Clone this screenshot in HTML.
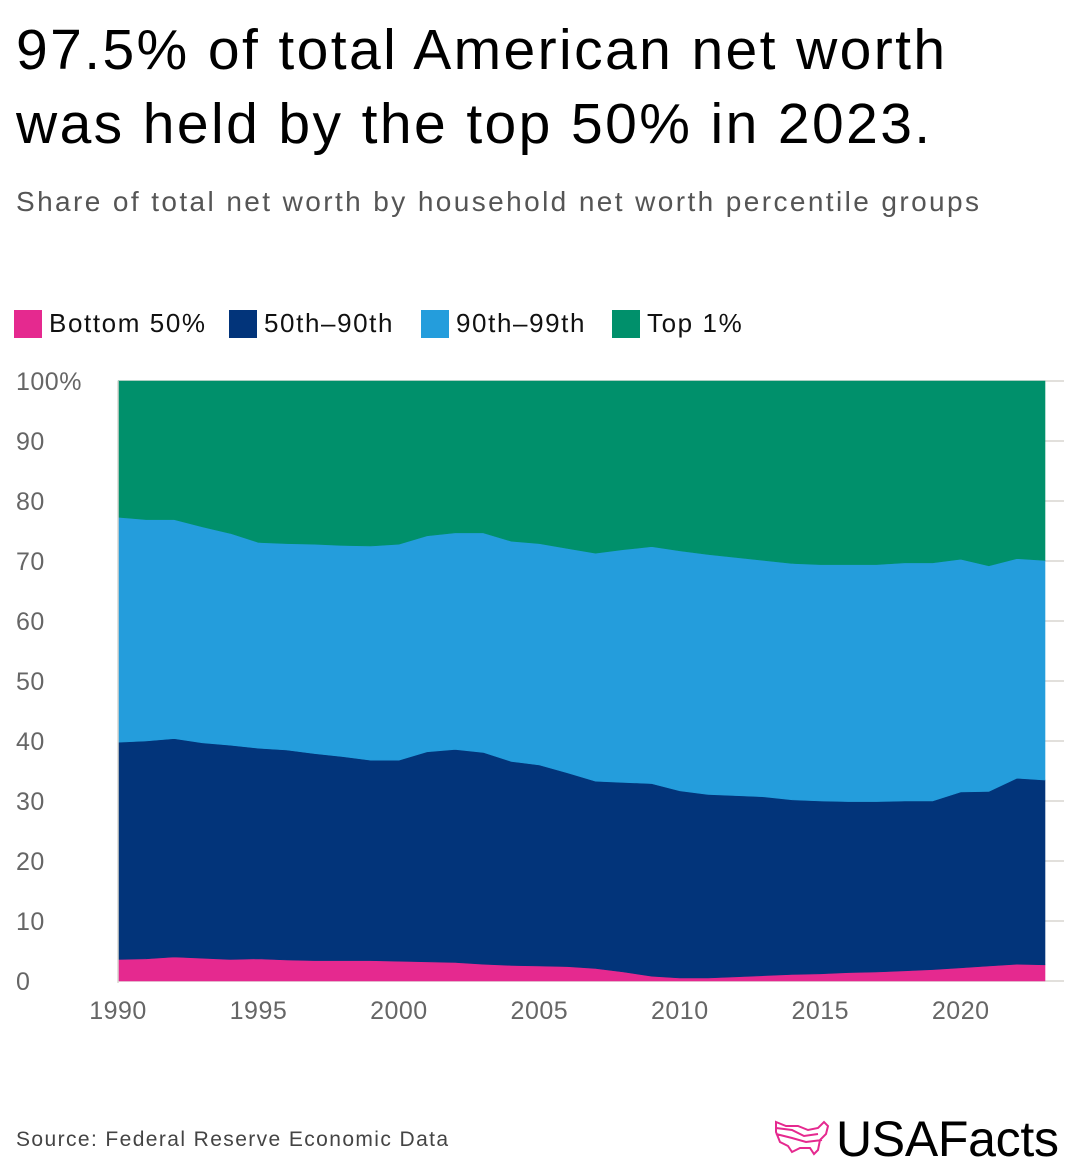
<!DOCTYPE html>
<html><head><meta charset="utf-8"><style>
body{margin:0;background:#fff;width:1080px;height:1176px;overflow:hidden;font-family:"Liberation Sans",sans-serif}
.t{position:absolute;left:16px;top:13px;font-size:57px;line-height:74px;color:#000;letter-spacing:2.4px}
.s{position:absolute;left:16px;top:186px;font-size:28px;color:#555;letter-spacing:2.4px}
.lg{position:absolute;top:308px;font-size:26px;color:#111;display:flex;align-items:center;letter-spacing:1.6px}
.lg i{display:inline-block;width:28px;height:28px;margin-right:7px}
.src{position:absolute;left:16px;top:1128px;font-size:21px;color:#444;letter-spacing:1.4px}
</style></head><body>
<div class="t">97.5% of total American net worth<br>was held by the top 50% in 2023.</div>
<div class="s">Share of total net worth by household net worth percentile groups</div>
<div class="lg" style="left:14px"><i style="background:#e5298f"></i>Bottom 50%</div>
<div class="lg" style="left:229px"><i style="background:#02347a"></i>50th–90th</div>
<div class="lg" style="left:421px"><i style="background:#249ddc"></i>90th–99th</div>
<div class="lg" style="left:612px"><i style="background:#00906b"></i>Top 1%</div>
<svg id="c" width="1080" height="1176" style="position:absolute;left:0;top:0"></svg>
<div class="src">Source: Federal Reserve Economic Data</div>
<svg style="position:absolute;left:772px;top:1118px" width="60" height="46"><path d="M4 4 L14 8 L26 8 L36 12 L46 10 L52 4 L56 8 L54 16 L48 22 L46 32 L42 36 L38 30 L28 30 L20 34 L16 28 L8 24 L4 14 Z M4 10 L20 12 L32 18 L46 16 M4 16 L20 20 L34 24 L50 22" fill="none" stroke="#e5298f" stroke-width="2"/></svg>
<div style="position:absolute;left:836px;top:1110px;font-size:50px;color:#000;letter-spacing:-0.3px">USAFacts</div>
<script>
const years=[1990,1991,1992,1993,1994,1995,1996,1997,1998,1999,2000,2001,2002,2003,2004,2005,2006,2007,2008,2009,2010,2011,2012,2013,2014,2015,2016,2017,2018,2019,2020,2021,2022,2023];
const bottom50=[3.6,3.7,4.0,3.8,3.6,3.7,3.5,3.4,3.4,3.4,3.3,3.2,3.1,2.8,2.6,2.5,2.4,2.1,1.5,0.8,0.5,0.5,0.7,0.9,1.1,1.2,1.4,1.5,1.7,1.9,2.2,2.5,2.8,2.7];
const mid50to90=[36.2,36.3,36.4,35.9,35.7,35.1,35.0,34.5,34.0,33.4,33.5,35.0,35.5,35.3,34.0,33.5,32.3,31.2,31.6,32.1,31.2,30.6,30.2,29.8,29.1,28.8,28.5,28.4,28.3,28.1,29.3,29.1,31.0,30.8];
const p90to99=[37.5,36.9,36.5,36.0,35.3,34.3,34.4,34.9,35.2,35.7,36.0,36.0,36.1,36.6,36.7,36.9,37.4,38.0,38.8,39.5,40.0,40.0,39.7,39.4,39.4,39.4,39.5,39.5,39.7,39.7,38.8,37.6,36.6,36.6];
const top1=[22.7,23.1,23.1,24.3,25.4,26.9,27.1,27.2,27.4,27.5,27.2,25.8,25.3,25.3,26.7,27.1,27.9,28.7,28.1,27.6,28.3,28.9,29.4,29.9,30.4,30.6,30.6,30.6,30.3,30.3,29.7,30.8,29.6,29.9];
const yTicks=[0,10,20,30,40,50,60,70,80,90,100];
const xTicks=[1990,1995,2000,2005,2010,2015,2020];
const NS="http://www.w3.org/2000/svg",svg=document.getElementById('c');
const X0=118,X1=1045,Y0=981,Y1=381;
const x=v=>X0+(v-1990)/(2023-1990)*(X1-X0);
const y=v=>Y0-v/100*(Y0-Y1);
function mk(t,a){const e=document.createElementNS(NS,t);for(const k in a)e.setAttribute(k,a[k]);svg.appendChild(e);return e;}
yTicks.forEach(t=>{
 const l=mk('line',{x1:X0,x2:1064,y1:y(t),y2:y(t),stroke:'#d8d6d0','stroke-width':1.5});
 
 
 const tx=mk('text',{x:16,y:y(t)+9,'font-size':25,fill:'#666','letter-spacing':'0.5','font-family':'Liberation Sans, sans-serif'});
 tx.textContent=t===100?'100%':t;
 
 
});
const series=[[bottom50,'#e5298f','bottom-50'],[mid50to90,'#02347a','50th-90th'],[p90to99,'#249ddc','90th-99th'],[top1,'#00906b','top-1']];
let base=years.map(()=>0);
series.forEach(([vals,col,name])=>{
 const top=base.map((b,i)=>b+vals[i]);
 let d='M'+years.map((yr,i)=>x(yr)+','+y(top[i])).join('L');
 for(let i=years.length-1;i>=0;i--)d+='L'+x(years[i])+','+y(base[i]);
 const p=mk('path',{d:d+'Z',fill:col,stroke:col,'stroke-width':0.6});
 
 
 base=top;
});
mk('line',{x1:X0,x2:X0,y1:Y1,y2:Y0+2,stroke:'#d8d6d0','stroke-width':1.5});
xTicks.forEach(t=>{
 const tx=mk('text',{x:x(t),y:1019,'font-size':25,fill:'#666','text-anchor':'middle','letter-spacing':'0.5','font-family':'Liberation Sans, sans-serif'});
 tx.textContent=t;
 
 
});
</script>
</body></html>
